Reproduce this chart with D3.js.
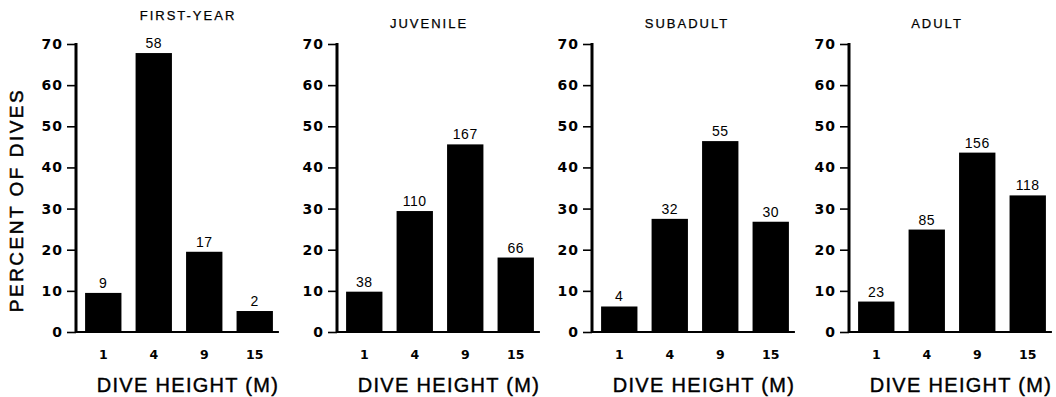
<!DOCTYPE html>
<html>
<head>
<meta charset="utf-8">
<script src="https://cdn.jsdelivr.net/npm/d3@7"></script>
<style>
  html, body { margin: 0; padding: 0; background: #fff; }
  svg { display: block; font-family: "Liberation Sans", Arial, sans-serif; }
  text { fill: #000; }
</style>
</head>
<body>
<svg id="chart" width="1056" height="397"></svg>
<script>
// Dive height classes (m) shared by all age groups
const heights = ["1", "4", "9", "15"];
const groups = ["FIRST-YEAR", "JUVENILE", "SUBADULT", "ADULT"];

// Percent of dives at each height, per age group
const firstYearPct = [9.5, 67.8, 19.5, 5.1];
const juvenilePct  = [9.8, 29.4, 45.6, 18.1];
const subadultPct  = [6.2, 27.5, 46.4, 26.8];
const adultPct     = [7.4, 24.9, 43.6, 33.2];

// Number of dives observed (printed above each bar)
const firstYearN = [9, 58, 17, 2];
const juvenileN  = [38, 110, 167, 66];
const subadultN  = [4, 32, 55, 30];
const adultN     = [23, 85, 156, 118];

const yTicks = [0, 10, 20, 30, 40, 50, 60, 70];

const pcts = [firstYearPct, juvenilePct, subadultPct, adultPct];
const counts = [firstYearN, juvenileN, subadultN, adultN];

// Layout of the four panels
const axisLeft = [76, 337, 592, 849];
const titleShift = [112, 92, 95, 88];
const panelWidth = 206;
const yTop = 44, yBottom = 332;
const textFont = "'Liberation Sans', Arial, sans-serif";
const boldFont = "'DejaVu Sans', Verdana, sans-serif";

const svg = d3.select("#chart");

const y = d3.scaleLinear().domain([0, 70]).range([yBottom, yTop]);

groups.forEach((name, i) => {
  const x0 = axisLeft[i];
  const x = d3.scaleBand()
    .domain(heights)
    .range([x0, x0 + panelWidth])
    .paddingInner(0.28)
    .paddingOuter(0.18);

  const g = svg.append("g").style("font-family", textFont);

  // Bars
  g.selectAll("rect.bar")
    .data(heights)
    .join("rect")
    .attr("class", "bar")
    .attr("x", d => x(d))
    .attr("width", x.bandwidth())
    .attr("y", (d, j) => y(pcts[i][j]))
    .attr("height", (d, j) => y(0) - y(pcts[i][j]))
    .attr("fill", "#000");

  // Sample sizes above bars
  g.selectAll("text.n")
    .data(heights)
    .join("text")
    .attr("class", "n")
    .attr("x", d => x(d) + x.bandwidth() / 2)
    .attr("y", (d, j) => y(pcts[i][j]) - 5)
    .attr("text-anchor", "middle")
    .style("font-size", "14px")
    .attr("letter-spacing", 0.5)
    .text((d, j) => counts[i][j]);

  // Y axis
  const yAxis = d3.axisLeft(y)
    .tickValues(yTicks)
    .tickSize(9)
    .tickPadding(4)
    .tickFormat(d3.format("d"));
  const ya = g.append("g")
    .attr("transform", `translate(${x0},0)`)
    .call(yAxis);
  ya.select(".domain").remove();
  ya.selectAll(".tick line").attr("stroke", "#000").attr("stroke-width", 1.6);
  ya.selectAll(".tick text")
    .style("font-family", boldFont)
    .style("font-size", "14px")
    .style("font-weight", "bold")
    .attr("letter-spacing", 1);
  g.append("line")
    .attr("x1", x0).attr("x2", x0)
    .attr("y1", y(70) - 1).attr("y2", y(0) + 1)
    .attr("stroke", "#000").attr("stroke-width", 3);

  // X axis baseline and category labels
  const xAxis = d3.axisBottom(x).tickSize(0).tickPadding(18);
  const xa = g.append("g")
    .attr("transform", `translate(0,${y(0)})`)
    .call(xAxis);
  xa.select(".domain").remove();
  xa.selectAll(".tick text")
    .style("font-family", boldFont)
    .style("font-size", "12.5px")
    .style("font-weight", "bold");
  g.append("line")
    .attr("x1", x0).attr("x2", x(heights[3]) + x.bandwidth() + 6)
    .attr("y1", y(0)).attr("y2", y(0))
    .attr("stroke", "#000").attr("stroke-width", 2);

  g.append("text")
    .attr("x", x0 + 112)
    .attr("y", 392)
    .attr("text-anchor", "middle")
    .style("font-size", "20px")
    .attr("letter-spacing", 1.3)
    .attr("stroke", "#000")
    .attr("stroke-width", 0.4)
    .text("DIVE HEIGHT (M)");

  // Panel title
  g.append("text")
    .attr("x", x0 + titleShift[i])
    .attr("y", i === 0 ? 20 : 28)
    .attr("text-anchor", "middle")
    .style("font-size", "13px")
    .attr("letter-spacing", 2)
    .attr("stroke", "#000")
    .attr("stroke-width", 0.25)
    .text(name);
});

// Shared y-axis title
svg.append("text")
  .attr("transform", `translate(23,200) rotate(-90)`)
  .attr("text-anchor", "middle")
  .style("font-family", textFont)
  .style("font-size", "19px")
  .attr("letter-spacing", 2.5)
  .attr("stroke", "#000")
  .attr("stroke-width", 0.5)
  .text("PERCENT OF DIVES");
</script>
</body>
</html>
